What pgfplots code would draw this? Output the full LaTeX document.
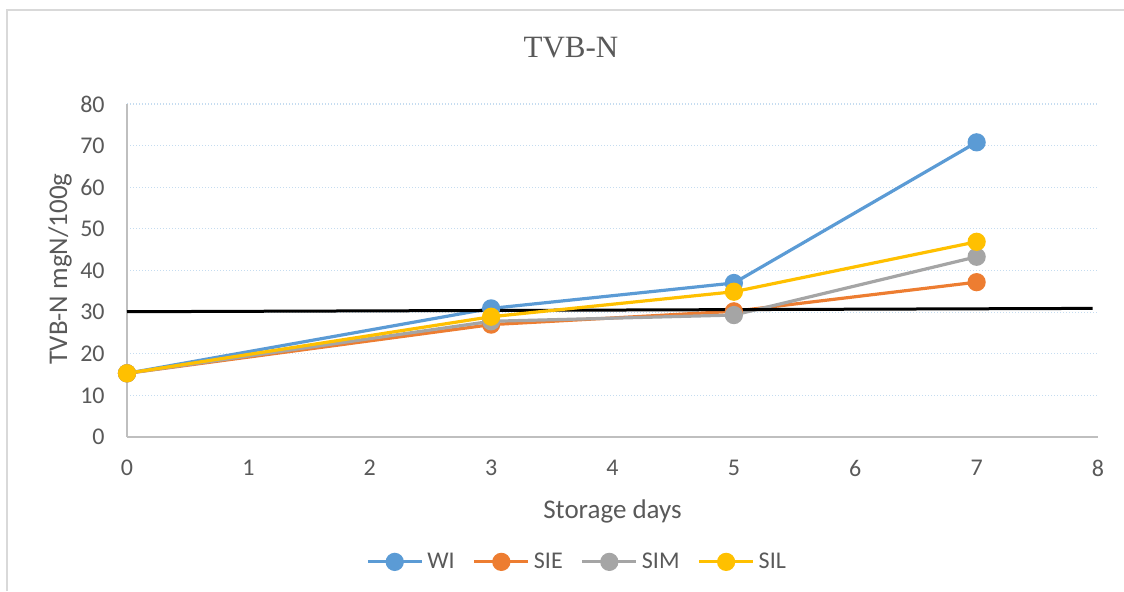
\documentclass[border=0pt]{standalone}
\usepackage{pgfplots}
\pgfplotsset{compat=1.18}
\usepackage{fontspec}
\setmainfont{Carlito}
\newfontfamily\titlefont{Liberation Serif}
\definecolor{cWI}{HTML}{5B9BD5}
\definecolor{cSIE}{HTML}{ED7D31}
\definecolor{cSIM}{HTML}{A5A5A5}
\definecolor{cSIL}{HTML}{FFC000}
\definecolor{txt}{HTML}{595959}
\definecolor{axgray}{HTML}{BFBFBF}
\definecolor{gridblue}{HTML}{C5DCF0}
\definecolor{frame}{HTML}{D9D9D9}
\begin{document}
\begin{tikzpicture}
\path[use as bounding box] (0pt,0pt) rectangle (562pt,295.5pt);
\draw[frame, line width=0.75pt] (3.5pt,0pt) -- (3.5pt,290.5pt) -- (562pt,290.5pt);
\node[txt, font=\titlefont\fontsize{15.5}{18}\selectfont] at (285.5pt,271.5pt) {TVB-N};
\node[txt, font=\fontsize{13.5}{16}\selectfont, anchor=base] at (306.25pt,36.5pt) {Storage days};
\node[txt, font=\fontsize{13.5}{16}\selectfont, anchor=base, rotate=90] at (33.5pt,161pt) {TVB-N mgN/100g};
\begin{axis}[
  at={(63.5pt,77pt)}, anchor=south west,
  scale only axis, width=485.5pt, height=166.5pt,
  xmin=0, xmax=8, ymin=0, ymax=80,
  xtick={0,1,...,8}, ytick={0,10,...,80},
  axis x line=bottom, axis y line=left,
  axis line style={-, axgray, line width=0.75pt},
  major tick length=0pt,
  ymajorgrids,
  major grid style={gridblue, line width=0.6pt, dash pattern=on 0.6pt off 0.9pt},
  /pgf/number format/assume math mode=true,
  tick label style={txt, font=\fontsize{12}{14}\selectfont, inner sep=0pt},
  xticklabel style={anchor=north, yshift=-11.5pt},
  yticklabel style={anchor=east, xshift=-11pt},
  clip=false,
  every axis plot/.append style={line width=1.6pt, mark=*, mark size=3.75pt},
  legend columns=4,
  legend style={at={(axis description cs:0.4645,-0.375)}, anchor=center, draw=none, fill=none,
    font=\fontsize{12}{14}\selectfont, text=txt,
    /tikz/every even column/.append style={column sep=7pt},
    nodes={inner xsep=2pt, inner ysep=1pt}},
  legend image code/.code={\draw[mark repeat=2, mark phase=2] plot coordinates {(0pt,0pt) (13.5pt,0pt) (27pt,0pt)};},
]
\addplot[cWI, mark options={fill=cWI, draw=cWI}] coordinates {(0,15.3) (3,30.9) (5,37.0) (7,70.8)};
\addlegendentry{WI}
\addplot[cSIE, mark options={fill=cSIE, draw=cSIE}] coordinates {(0,15.3) (3,27.0) (5,30.2) (7,37.2)};
\addlegendentry{SIE}
\addplot[cSIM, mark options={fill=cSIM, draw=cSIM}] coordinates {(0,15.3) (3,27.8) (5,29.3) (7,43.3)};
\addlegendentry{SIM}
\addplot[black, line width=1.5pt, mark=none, forget plot] coordinates {(0,30.1) (7.956,30.9)};
\addplot[cSIL, mark options={fill=cSIL, draw=cSIL}] coordinates {(0,15.3) (3,28.9) (5,34.9) (7,46.9)};
\addlegendentry{SIL}
\end{axis}
\end{tikzpicture}
\end{document}
